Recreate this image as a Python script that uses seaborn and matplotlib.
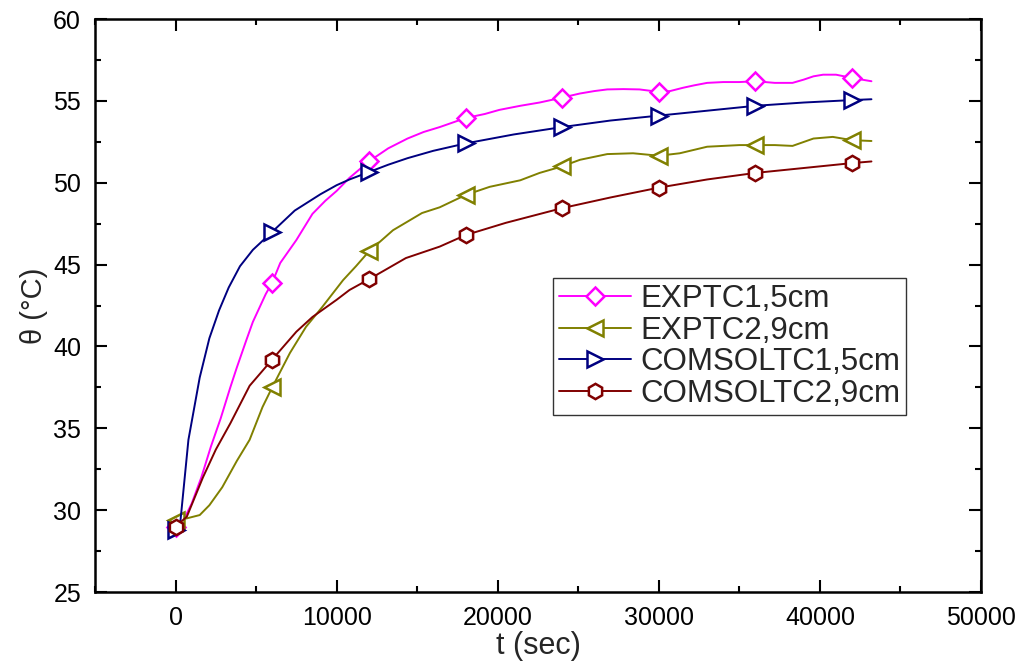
import matplotlib
matplotlib.use("Agg")
from matplotlib import pyplot as plt
from matplotlib.ticker import MultipleLocator
import seaborn as sns
import pandas as pd

# EXPTC1,5cm (measured)
t_exp1 = [0, 600, 1000, 1600, 2200, 2800, 3400, 3800, 4400, 4800, 5600, 6000, 6500, 7500,
          8500, 9300, 10000, 10800, 12000, 13200, 14400, 15400, 16400, 18000, 19200, 20100,
          21400, 22600, 24000, 25100, 26000, 26800, 27800, 28800, 30000, 30700, 31500, 32200,
          33000, 34000, 35000, 36000, 37200, 38300, 39000, 39600, 40200, 41000, 42000, 42600, 43200]
v_exp1 = [29.0, 29.6, 30.4, 32.0, 33.9, 35.6, 37.5, 38.7, 40.4, 41.5, 43.2, 43.9, 45.1, 46.5,
          48.1, 48.9, 49.5, 50.3, 51.3, 52.1, 52.7, 53.1, 53.4, 53.95, 54.2, 54.45,
          54.7, 54.9, 55.2, 55.45, 55.6, 55.7, 55.72, 55.7, 55.55, 55.6, 55.8, 55.95,
          56.1, 56.15, 56.15, 56.2, 56.1, 56.1, 56.3, 56.5, 56.6, 56.6, 56.4, 56.3, 56.2]

# EXPTC2,9cm (measured)
t_exp2 = [0, 700, 1500, 2100, 2900, 3800, 4600, 5400, 6000, 7100, 8100, 9100, 10400, 11200,
          12000, 13500, 15300, 16400, 18000, 19500, 21400, 22600, 24000, 25100, 26800, 28400,
          30000, 31300, 33000, 35000, 36000, 37200, 38300, 39600, 40800, 42000, 43200]
v_exp2 = [29.4, 29.5, 29.7, 30.3, 31.4, 33.0, 34.3, 36.3, 37.5, 39.6, 41.2, 42.4, 44.05, 44.9,
          45.8, 47.1, 48.15, 48.5, 49.25, 49.75, 50.15, 50.6, 51.0, 51.4, 51.75, 51.8,
          51.65, 51.8, 52.2, 52.3, 52.3, 52.3, 52.25, 52.7, 52.8, 52.6, 52.55]

# COMSOLTC1,5cm (simulated)
t_com1 = [0, 300, 800, 1500, 2100, 2700, 3300, 4000, 4800, 6000, 7400, 9000, 10000, 10800,
          12000, 13200, 14400, 16000, 18000, 21000, 24000, 27000, 30000, 33000, 36000, 39000,
          42000, 43200]
v_com1 = [28.8, 29.3, 34.3, 38.1, 40.5, 42.2, 43.6, 44.9, 45.9, 47.0, 48.3, 49.3, 49.85, 50.2,
          50.65, 51.1, 51.5, 51.95, 52.4, 52.95, 53.4, 53.8, 54.1, 54.4, 54.7, 54.9,
          55.05, 55.1]

# COMSOLTC2,9cm (simulated)
t_com2 = [0, 700, 1700, 2500, 3400, 4600, 6000, 7500, 8500, 10000, 10800, 12000, 14300, 16400,
          18000, 20500, 24000, 27000, 30000, 33000, 36000, 39000, 42000, 43200]
v_com2 = [29.0, 29.6, 32.0, 33.7, 35.3, 37.6, 39.2, 40.9, 41.8, 42.85, 43.45, 44.1, 45.4, 46.1,
          46.8, 47.55, 48.45, 49.1, 49.7, 50.2, 50.6, 50.9, 51.2, 51.3]

marker_times = [0, 6000, 12000, 18000, 24000, 30000, 36000, 42000]

series = [
    ("EXPTC1,5cm", t_exp1, v_exp1, "#FF00FF", "D", 9.5),
    ("EXPTC2,9cm", t_exp2, v_exp2, "#808000", "<", 12),
    ("COMSOLTC1,5cm", t_com1, v_com1, "#000080", ">", 12),
    ("COMSOLTC2,9cm", t_com2, v_com2, "#800000", "h", 11),
]

sns.set_style("ticks")
plt.rcParams["font.family"] = ["Liberation Sans", "DejaVu Sans"]

fig = plt.figure(figsize=(10.27, 6.7), dpi=100)
ax = fig.add_axes([0.0925, 0.1164, 0.8627, 0.8552])

for name, t, v, color, mk, ms in series:
    df = pd.DataFrame({"t": t, "v": v})
    idx = [i for i, x in enumerate(t) if x in marker_times]
    sns.lineplot(data=df, x="t", y="v", ax=ax, color=color, label=name,
                 estimator=None, errorbar=None, linewidth=1.4,
                 marker=mk, markevery=idx, markersize=ms,
                 markerfacecolor="white", markeredgecolor=color, markeredgewidth=1.8)

ax.set_xlim(-5000, 50000)
ax.set_ylim(25, 60)
ax.xaxis.set_major_locator(MultipleLocator(10000))
ax.xaxis.set_minor_locator(MultipleLocator(5000))
ax.yaxis.set_major_locator(MultipleLocator(5))
ax.yaxis.set_minor_locator(MultipleLocator(2.5))
ax.tick_params(which="both", direction="in", top=True, right=True, width=1.5, colors="black")
ax.tick_params(which="major", length=8.5, labelsize=18, pad=10)
ax.tick_params(which="minor", length=4.3)
for sp in ax.spines.values():
    sp.set_linewidth(1.8)
    sp.set_color("black")

ax.set_xlabel("t (sec)", fontsize=22, labelpad=1)
ax.set_ylabel("θ (°C)", fontsize=21, labelpad=4)

leg = ax.legend(loc="upper left", bbox_to_anchor=(0.517, 0.548), fontsize=22.5,
                frameon=True, fancybox=False, handlelength=2.3, labelspacing=0.06,
                borderpad=0.18, handletextpad=0.3, borderaxespad=0)
leg.get_frame().set_edgecolor("black")
leg.get_frame().set_linewidth(1.0)

fig.savefig("out.png", dpi=100)
